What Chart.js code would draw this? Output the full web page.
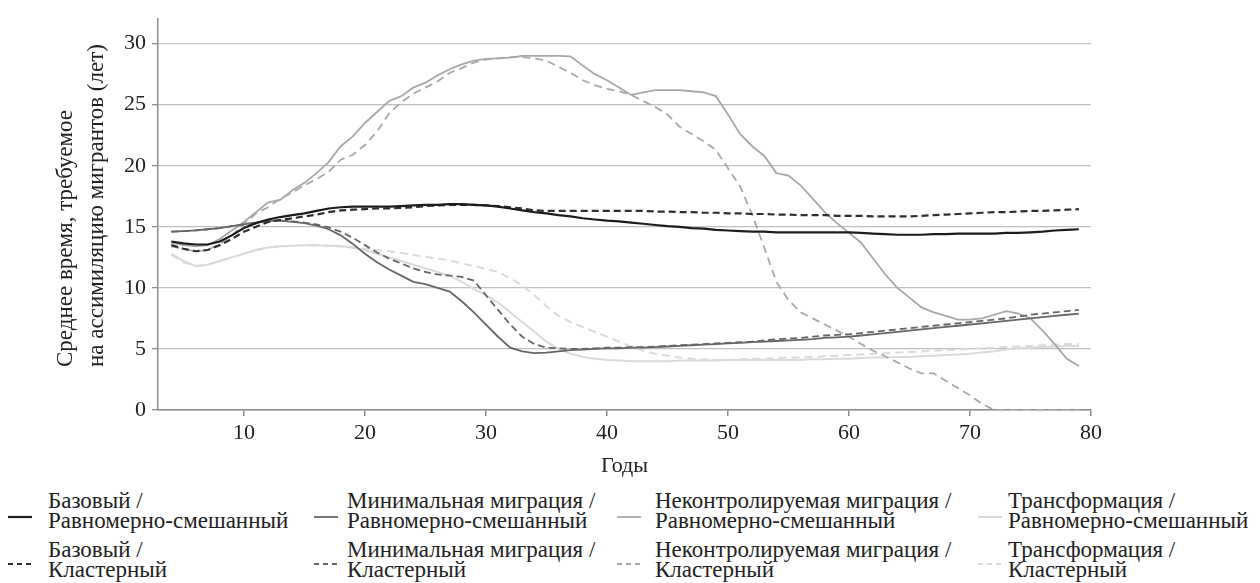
<!DOCTYPE html>
<html>
<head>
<meta charset="utf-8">
<script src="https://cdn.jsdelivr.net/npm/chart.js@4.4.1/dist/chart.umd.min.js"></script>
<style>
  html, body { margin: 0; padding: 0; background: #fff; }
  #wrap { position: relative; width: 1260px; height: 583px; font-family: "Liberation Serif", "Times New Roman", serif; color: #222; }
  #c { position: absolute; left: 0; top: 0; }
  .lg-text { position: absolute; font-size: 23px; line-height: 20px; white-space: nowrap; }
  .lg-line { position: absolute; }
</style>
</head>
<body>
<div id="wrap">
  <canvas id="c" width="1260" height="480"></canvas>
  <div id="legend"></div>
</div>
<script>
'use strict';

// Years on the x axis
const years = [
  4, 5, 6, 7, 8, 9, 10, 11, 12, 13,
  14, 15, 16, 17, 18, 19, 20, 21, 22, 23,
  24, 25, 26, 27, 28, 29, 30, 31, 32, 33,
  34, 35, 36, 37, 38, 39, 40, 41, 42, 43,
  44, 45, 46, 47, 48, 49, 50, 51, 52, 53,
  54, 55, 56, 57, 58, 59, 60, 61, 62, 63,
  64, 65, 66, 67, 68, 69, 70, 71, 72, 73,
  74, 75, 76, 77, 78, 79
];
const xTicks = [10, 20, 30, 40, 50, 60, 70, 80];
const yTicks = [0, 5, 10, 15, 20, 25, 30];

// Базовый / Равномерно-смешанный
const baseUniform = [
  13.8, 13.65, 13.55, 13.55, 13.8, 14.3, 14.9, 15.3, 15.6, 15.8,
  15.95, 16.1, 16.3, 16.5, 16.6, 16.65, 16.65, 16.65, 16.65, 16.7,
  16.75, 16.8, 16.8, 16.85, 16.85, 16.8, 16.75, 16.65, 16.5, 16.35,
  16.2, 16.1, 15.95, 15.85, 15.7, 15.6, 15.5, 15.45, 15.35, 15.25,
  15.15, 15.05, 15.0, 14.9, 14.85, 14.75, 14.7, 14.65, 14.6, 14.6,
  14.55, 14.55, 14.55, 14.55, 14.55, 14.55, 14.55, 14.5, 14.45, 14.4,
  14.35, 14.35, 14.35, 14.4, 14.4, 14.45, 14.45, 14.45, 14.45, 14.5,
  14.5, 14.55, 14.6, 14.7, 14.75, 14.8
];
// Базовый / Кластерный
const baseCluster = [
  13.5, 13.2, 13.0, 13.1, 13.5, 14.0, 14.6, 15.0, 15.4, 15.55,
  15.7, 15.85, 16.0, 16.2, 16.35, 16.4, 16.45, 16.5, 16.5, 16.55,
  16.6, 16.7, 16.75, 16.8, 16.8, 16.8, 16.75, 16.7, 16.6, 16.5,
  16.35, 16.3, 16.3, 16.3, 16.3, 16.3, 16.3, 16.3, 16.3, 16.3,
  16.25, 16.25, 16.2, 16.2, 16.15, 16.15, 16.1, 16.1, 16.05, 16.05,
  16.0, 16.0, 15.95, 15.95, 15.95, 15.9, 15.9, 15.9, 15.85, 15.85,
  15.85, 15.85, 15.9, 15.95, 16.0, 16.05, 16.1, 16.15, 16.2, 16.2,
  16.25, 16.3, 16.3, 16.35, 16.4, 16.45
];
// Минимальная миграция / Равномерно-смешанный
const minUniform = [
  14.6, 14.65, 14.7, 14.8, 14.9, 15.05, 15.2, 15.35, 15.5, 15.5,
  15.4, 15.3, 15.1, 14.8, 14.3, 13.6, 12.8, 12.1, 11.5, 11.0,
  10.5, 10.3, 10.0, 9.7, 8.9, 8.0, 7.0, 6.0, 5.1, 4.8,
  4.65, 4.7, 4.8, 4.9, 4.95, 5.0, 5.05, 5.05, 5.1, 5.1,
  5.15, 5.2, 5.25, 5.3, 5.35, 5.4, 5.45, 5.5, 5.55, 5.6,
  5.65, 5.7, 5.75, 5.8, 5.9, 5.95, 6.0, 6.1, 6.2, 6.3,
  6.4, 6.5, 6.6, 6.7, 6.8, 6.9, 7.0, 7.1, 7.2, 7.3,
  7.4, 7.5, 7.6, 7.7, 7.8, 7.9
];
// Минимальная миграция / Кластерный
const minCluster = [
  14.6, 14.65, 14.7, 14.8, 14.9, 15.05, 15.2, 15.35, 15.5, 15.5,
  15.45, 15.35, 15.2, 14.95, 14.6, 14.1, 13.5, 12.9, 12.4, 12.0,
  11.6, 11.3, 11.1, 11.0, 10.9, 10.6, 9.4, 8.2, 7.0, 6.0,
  5.4, 5.1, 5.05, 5.0, 5.0, 5.05, 5.1, 5.1, 5.15, 5.15,
  5.2, 5.25, 5.3, 5.35, 5.4, 5.45, 5.5, 5.55, 5.6, 5.7,
  5.8, 5.85, 5.9, 6.0, 6.1, 6.15, 6.2, 6.3, 6.4, 6.5,
  6.6, 6.7, 6.8, 6.9, 7.0, 7.1, 7.2, 7.3, 7.4, 7.5,
  7.65, 7.8, 7.9, 8.0, 8.1, 8.2
];
// Неконтролируемая миграция / Равномерно-смешанный
const uncUniform = [
  13.7, 13.5, 13.4, 13.5, 14.0, 14.7, 15.4, 16.2, 17.0, 17.2,
  18.0, 18.6, 19.4, 20.3, 21.6, 22.4, 23.5, 24.4, 25.3, 25.7,
  26.4, 26.8, 27.4, 27.9, 28.3, 28.6, 28.75, 28.8, 28.85, 29.0,
  29.0, 29.0, 29.0, 28.95, 28.2, 27.5, 27.0, 26.4, 25.8, 26.0,
  26.2, 26.2, 26.2, 26.1, 26.0, 25.7, 24.2, 22.6, 21.6, 20.8,
  19.4, 19.2, 18.4, 17.3, 16.2, 15.3, 14.5, 13.7, 12.4, 11.1,
  10.0, 9.2, 8.4, 8.0, 7.7, 7.4, 7.4, 7.5, 7.8, 8.1,
  7.9, 7.5, 6.5, 5.4, 4.2, 3.6
];
// Неконтролируемая миграция / Кластерный
const uncCluster = [
  13.4, 13.2, 13.0, 13.1, 13.6, 14.3, 15.2, 16.1, 16.6, 17.3,
  17.8, 18.4, 18.9, 19.5, 20.5, 20.9, 21.7, 22.8, 24.3, 25.2,
  25.9, 26.4, 26.9, 27.6, 28.0, 28.45, 28.7, 28.8, 28.9, 28.9,
  28.8, 28.6, 28.1, 27.6, 27.0, 26.6, 26.3, 26.1, 25.8, 25.3,
  24.8, 24.2, 23.2, 22.6, 22.0, 21.3, 19.8, 18.3, 16.0, 13.3,
  10.5, 9.0, 8.0, 7.5, 7.0, 6.5, 6.0, 5.4, 4.85, 4.4,
  3.9, 3.4, 3.0, 3.0, 2.4, 1.8, 1.2, 0.5, 0, 0,
  0, 0, 0, 0, 0, 0
];
// Трансформация / Равномерно-смешанный
const trUniform = [
  12.8, 12.2, 11.8, 11.9, 12.2, 12.5, 12.8, 13.1, 13.3, 13.4,
  13.45, 13.5, 13.5, 13.45, 13.4, 13.3, 13.1, 12.8, 12.5, 12.2,
  11.9, 11.6, 11.3, 11.0, 10.5, 9.9, 9.4, 8.8, 8.0, 7.2,
  6.4, 5.6, 5.0, 4.6, 4.35, 4.2, 4.1, 4.05, 4.0, 4.0,
  4.0, 4.0, 4.05, 4.05, 4.05, 4.05, 4.1, 4.1, 4.1, 4.1,
  4.1, 4.1, 4.1, 4.15, 4.15, 4.2, 4.2, 4.25, 4.3, 4.3,
  4.35, 4.35, 4.4, 4.45, 4.5, 4.55, 4.6, 4.7, 4.8, 4.95,
  5.05, 5.1, 5.15, 5.2, 5.25, 5.25
];
// Трансформация / Кластерный
const trCluster = [
  12.7, 12.1, 11.8, 11.9, 12.2, 12.5, 12.8, 13.1, 13.3, 13.4,
  13.45, 13.5, 13.5, 13.45, 13.4, 13.3, 13.2, 13.1, 13.0, 12.85,
  12.7, 12.55, 12.4, 12.25, 12.0, 11.8, 11.55, 11.3, 10.8, 10.2,
  9.4, 8.5, 7.7, 7.2, 6.8, 6.4, 6.0, 5.6, 5.2, 4.85,
  4.6, 4.45, 4.3, 4.2, 4.15, 4.1, 4.1, 4.15, 4.2, 4.2,
  4.25, 4.3, 4.3, 4.35, 4.4, 4.45, 4.5, 4.55, 4.6, 4.65,
  4.7, 4.75, 4.8, 4.85, 4.9, 4.95, 5.0, 5.05, 5.1, 5.15,
  5.2, 5.25, 5.3, 5.35, 5.4, 5.4
];

const seriesLabels = [
  ['Базовый /', 'Равномерно-смешанный'],
  ['Базовый /', 'Кластерный'],
  ['Минимальная миграция /', 'Равномерно-смешанный'],
  ['Минимальная миграция /', 'Кластерный'],
  ['Неконтролируемая миграция /', 'Равномерно-смешанный'],
  ['Неконтролируемая миграция /', 'Кластерный'],
  ['Трансформация /', 'Равномерно-смешанный'],
  ['Трансформация /', 'Кластерный']
];
const seriesValues = [baseUniform, baseCluster, minUniform, minCluster, uncUniform, uncCluster, trUniform, trCluster];

// Line styles
const seriesStyles = [
  { color: '#1c1c1c', width: 2.2, dash: [] },
  { color: '#2e2e2e', width: 2.2, dash: [7, 4] },
  { color: '#666666', width: 1.8, dash: [] },
  { color: '#666666', width: 1.8, dash: [7, 4] },
  { color: '#a8a8a8', width: 1.8, dash: [] },
  { color: '#a8a8a8', width: 1.8, dash: [8, 5] },
  { color: '#dadada', width: 2, dash: [] },
  { color: '#dadada', width: 2, dash: [8, 5] }
];

const FONT = '"Liberation Serif", "Times New Roman", serif';
Chart.defaults.font.family = FONT;
Chart.defaults.font.size = 22;
Chart.defaults.color = '#222';

const datasets = seriesValues.map(function(vals, i) {
  const st = seriesStyles[i];
  return {
    label: seriesLabels[i].join(' '),
    data: years.map(function(x, k) { return { x: x, y: vals[k] }; }),
    borderColor: st.color,
    borderWidth: st.width,
    borderDash: st.dash,
    pointRadius: 0,
    tension: 0,
    fill: false
  };
});

// Y axis title, two lines, start-aligned like the source
const yTitlePlugin = {
  id: 'yTitle',
  afterDraw(chart) {
    const ctx = chart.ctx;
    ctx.save();
    ctx.font = '23px ' + FONT;
    ctx.fillStyle = '#222';
    ctx.textAlign = 'left';
    ctx.textBaseline = 'middle';
    const lines = ['Среднее время, требуемое', 'на ассимиляцию мигрантов (лет)'];
    const xs = [66, 97];
    lines.forEach(function(t, i) {
      ctx.save();
      ctx.translate(xs[i], 367);
      ctx.rotate(-Math.PI / 2);
      ctx.fillText(t, 0, 0);
      ctx.restore();
    });
    ctx.restore();
  }
};

function drawChart() {
  new Chart(document.getElementById('c'), {
    type: 'line',
    data: { datasets: datasets },
    plugins: [yTitlePlugin],
    options: {
      responsive: false,
      animation: false,
      layout: { padding: { top: 14, right: 169, left: 0, bottom: 0 } },
      plugins: {
        legend: { display: false },
        tooltip: { enabled: false }
      },
      scales: {
        x: {
          type: 'linear',
          min: 2.9,
          max: 80,
          afterBuildTicks: function(axis) { axis.ticks = xTicks.map(function(v) { return { value: v }; }); },
          afterFit: function(scale) { scale.height = 70; },
          border: { display: true, color: '#8c8c8c', width: 1.5 },
          grid: { drawOnChartArea: false, drawTicks: true, tickLength: 6, color: '#8c8c8c', lineWidth: 1.5 },
          ticks: { padding: 4, color: '#222', maxRotation: 0 },
          title: { display: true, text: 'Годы', color: '#222', padding: { top: 0, bottom: 1 } }
        },
        y: {
          min: 0,
          max: 32,
          afterBuildTicks: function(axis) { axis.ticks = yTicks.map(function(v) { return { value: v }; }); },
          afterFit: function(scale) { scale.width = 158; },
          border: { display: true, color: '#8c8c8c', width: 1.5 },
          grid: { color: '#bfbfbf', lineWidth: 1.3, tickLength: 6, tickColor: '#8c8c8c' },
          ticks: { padding: 6, color: '#222' }
        }
      }
    }
  });
}

// Legend (HTML, 4 columns x 2 rows)
const legendTextX = [48, 347, 655, 1008];
const legendLineX = [8, 314, 617, 978];
const legendRowTop = [491, 540];
const legendLineY = [517, 564];
const legendEl = document.getElementById('legend');
seriesLabels.forEach(function(lines, i) {
  const col = Math.floor(i / 2), row = i % 2;
  const st = seriesStyles[i];
  const svgNS = 'http://www.w3.org/2000/svg';
  const svg = document.createElementNS(svgNS, 'svg');
  svg.setAttribute('class', 'lg-line');
  svg.setAttribute('width', '26');
  svg.setAttribute('height', '6');
  svg.style.left = legendLineX[col] + 'px';
  svg.style.top = (legendLineY[row] - 3) + 'px';
  const ln = document.createElementNS(svgNS, 'line');
  ln.setAttribute('x1', '0'); ln.setAttribute('x2', '24');
  ln.setAttribute('y1', '3'); ln.setAttribute('y2', '3');
  ln.setAttribute('stroke', st.color);
  ln.setAttribute('stroke-width', st.width);
  if (st.dash.length) ln.setAttribute('stroke-dasharray', '5,4');
  svg.appendChild(ln);
  legendEl.appendChild(svg);

  const div = document.createElement('div');
  div.className = 'lg-text';
  div.style.left = legendTextX[col] + 'px';
  div.style.top = legendRowTop[row] + 'px';
  div.innerHTML = lines[0] + '<br>' + lines[1];
  legendEl.appendChild(div);
});

// Make sure the serif face is ready before the canvas text is drawn
if (document.fonts && document.fonts.load) {
  document.fonts.load('22px "Liberation Serif"').then(drawChart, drawChart);
} else {
  drawChart();
}
</script>
</body>
</html>
